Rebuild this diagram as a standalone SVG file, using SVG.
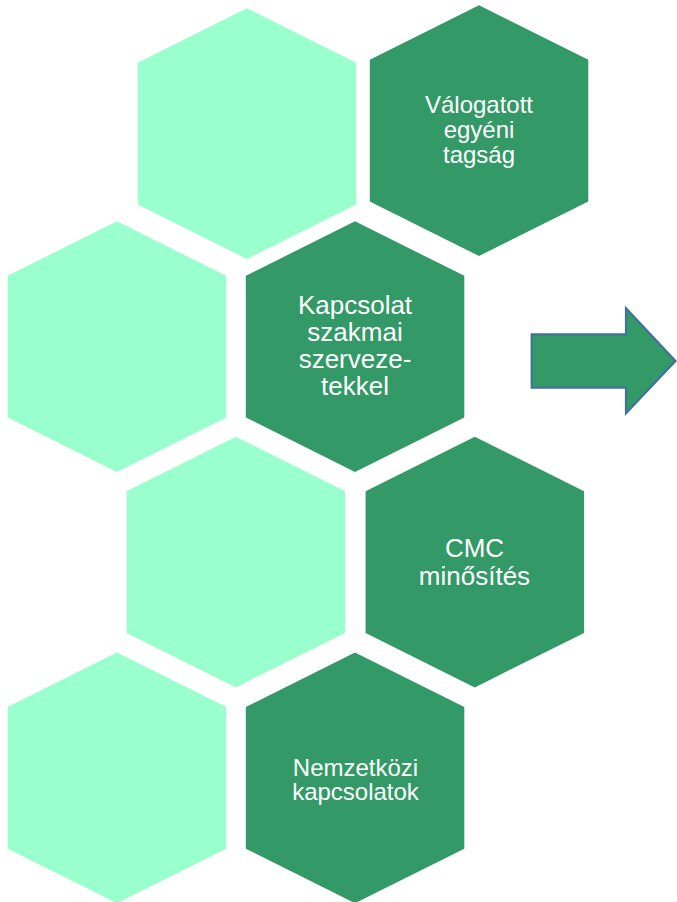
<svg xmlns="http://www.w3.org/2000/svg" xmlns:xlink="http://www.w3.org/1999/xlink" width="677" height="902" viewBox="0 0 677 902">
<style>
.light{fill:#99FFCC}
.dark{fill:#339966}
.t{font-family:"Liberation Sans",Arial,sans-serif;fill:#FFFFFF;text-anchor:middle}
.s1{font-size:24px}
.s2{font-size:26px}
</style>
<defs>
<polygon id="hex" points="109.2,0 218.5,54.5 218.5,196.2 109.2,250.7 0,196.2 0,54.5"/>
</defs>
<rect width="677" height="902" fill="#FFFFFF"/>
<g id="hex1"><use xlink:href="#hex" class="light" transform="translate(137.7,8.3)"/></g>
<g id="hex2"><use xlink:href="#hex" class="dark" transform="translate(369.8,5.3)"/>
<text class="t s1" x="479" y="113">Válogatott</text>
<text class="t s1" x="479" y="138">egyéni</text>
<text class="t s1" x="479" y="162.5">tagság</text></g>
<g id="hex3"><use xlink:href="#hex" class="light" transform="translate(7.7,221.3)"/></g>
<g id="hex4"><use xlink:href="#hex" class="dark" transform="translate(245.8,221.3)"/>
<text class="t s2" x="355" y="313.5">Kapcsolat</text>
<text class="t s2" x="355" y="340.7">szakmai</text>
<text class="t s2" x="355" y="367.9">szerveze-</text>
<text class="t s2" x="355" y="395.1">tekkel</text></g>
<g id="hex5"><use xlink:href="#hex" class="light" transform="translate(126.6,436.7)"/></g>
<g id="hex6"><use xlink:href="#hex" class="dark" transform="translate(365.6,436.7)"/>
<text class="t s2" x="474.5" y="556.7">CMC</text>
<text class="t s2" x="474.5" y="585">minősítés</text></g>
<g id="hex7"><use xlink:href="#hex" class="light" transform="translate(7.7,652.5)"/></g>
<g id="hex8"><use xlink:href="#hex" class="dark" transform="translate(245.8,652.5)"/>
<text class="t s1" x="355.5" y="775.5">Nemzetközi</text>
<text class="t s1" x="355.5" y="800.3">kapcsolatok</text></g>
<g id="connectors">
<polygon points="531.7,334.3 626,334.3 626,308.3 675.5,361 626,413.3 626,387.7 531.7,387.7" fill="#339966" stroke="#41719C" stroke-width="2.2" stroke-linejoin="miter"/>
</g>
</svg>
